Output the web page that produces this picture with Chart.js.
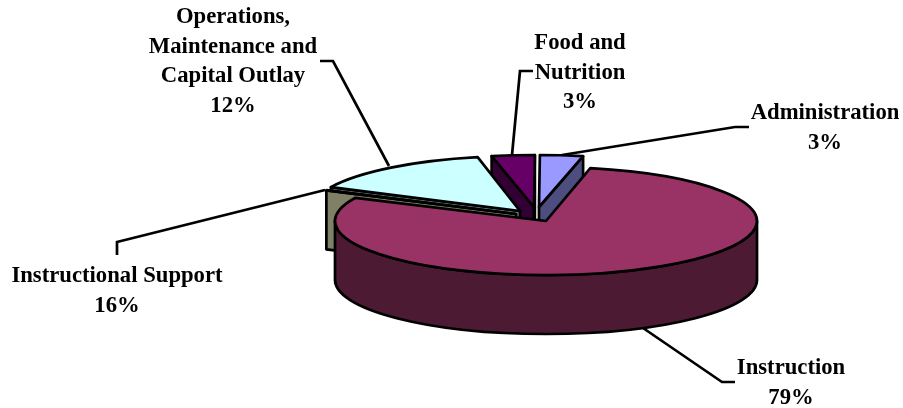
<!DOCTYPE html>
<html>
<head>
<meta charset="utf-8">
<title>Budget pie</title>
<script src="https://cdn.jsdelivr.net/npm/chart.js@4/dist/chart.umd.js"></script>
<style>
  html, body { margin: 0; padding: 0; background: #fff; }
  canvas { display: block; }
</style>
</head>
<body>
<canvas id="myChart" width="903" height="408"></canvas>
<script>
// ----------- Data ------------ //
let categories = ["Instructional Support", "Operations, Maintenance and Capital Outlay", "Food and Nutrition", "Administration", "Instruction"];
// share of the circle each slice really takes up in the picture
let sliceShares = [0.1, 14.6, 3.3, 3.3, 78.7];
// what the labels print (they do not add up to 100 in the original)
let printedPercents = [16, 12, 3, 3, 79];

// ----------- Looks ------------ //
let topColors = ["#ffffcc", "#ccffff", "#660066", "#9999ff", "#993366"];
let wallColors = ["#808066", "#668080", "#330033", "#4d4d80", "#4d1a33"];

// where each slice tip sits on the page, and the flattened radii
let sliceTips = [
  { x: 516, y: 214, rx: 210, ry: 55 },
  { x: 520, y: 211, rx: 210, ry: 55 },
  { x: 534, y: 207, rx: 210, ry: 52 },
  { x: 539, y: 207, rx: 210, ry: 52 },
  { x: 546, y: 221, rx: 211, ry: 54 }
];
let depth = 59;
let drawOrder = [3, 2, 1, 0, 4];

let labelSpots = [
  { x: 117, y: 282, lines: ["Instructional Support"] },
  { x: 233, y: 23, lines: ["Operations,", "Maintenance and", "Capital Outlay"] },
  { x: 580, y: 49, lines: ["Food and", "Nutrition"] },
  { x: 825, y: 119, lines: ["Administration"] },
  { x: 791, y: 374, lines: ["Instruction"] }
];
let leaders = [
  [[117, 255], [117, 242], [325, 190]],
  [[320, 61], [333, 61], [389, 166]],
  [[533, 71], [520, 71], [512, 155]],
  [[749, 127], [735, 127], [562, 155]],
  [[735, 382], [722, 382], [643, 328]]
];

// ---------- 3D drawing ------------- //
function drawWalls(ctx, arc, tip, color) {
  let a = arc.startAngle;
  let b = arc.endAngle;
  ctx.fillStyle = color;

  // cut edges that face the viewer
  let edges = [];
  if (Math.sin(a - Math.PI / 2) > 0) edges.push(a);
  if (Math.sin(b + Math.PI / 2) > 0) edges.push(b);
  for (let e of edges) {
    let ex = tip.x + tip.rx * Math.cos(e);
    let ey = tip.y + tip.ry * Math.sin(e);
    ctx.beginPath();
    ctx.moveTo(tip.x, tip.y);
    ctx.lineTo(ex, ey);
    ctx.lineTo(ex, ey + depth);
    ctx.lineTo(tip.x, tip.y + depth);
    ctx.closePath();
    ctx.fill();
    ctx.stroke();
  }

  // round outside wall, only the front half of the ellipse shows
  for (let n = 0; n < 3; n++) {
    let from = Math.max(a, n * 2 * Math.PI);
    let to = Math.min(b, n * 2 * Math.PI + Math.PI);
    if (from >= to) continue;
    ctx.beginPath();
    ctx.ellipse(tip.x, tip.y, tip.rx, tip.ry, 0, from, to);
    ctx.ellipse(tip.x, tip.y + depth, tip.rx, tip.ry, 0, to, from, true);
    ctx.closePath();
    ctx.fill();
    ctx.stroke();
  }
}

function drawTop(ctx, arc, tip) {
  // let the library fill the slice, squashed onto the ellipse
  ctx.save();
  ctx.translate(tip.x, tip.y);
  ctx.scale(tip.rx / arc.outerRadius, tip.ry / arc.outerRadius);
  ctx.translate(-arc.x, -arc.y);
  arc.draw(ctx);
  ctx.restore();

  // outline done separately so the line width stays even
  ctx.beginPath();
  ctx.moveTo(tip.x, tip.y);
  ctx.ellipse(tip.x, tip.y, tip.rx, tip.ry, 0, arc.startAngle, arc.endAngle);
  ctx.closePath();
  ctx.stroke();
}

let pie3d = {
  id: "pie3d",
  beforeDatasetDraw(chart, args) {
    let ctx = chart.ctx;
    let arcs = args.meta.data;
    ctx.save();
    ctx.strokeStyle = "#000";
    ctx.lineWidth = 2.7;
    ctx.lineJoin = "round";
    for (let i of drawOrder) {
      drawWalls(ctx, arcs[i], sliceTips[i], wallColors[i]);
      drawTop(ctx, arcs[i], sliceTips[i]);
    }
    ctx.restore();
    return false;
  },
  afterDraw(chart) {
    let ctx = chart.ctx;
    ctx.save();
    ctx.strokeStyle = "#000";
    ctx.lineWidth = 2.7;
    for (let line of leaders) {
      ctx.beginPath();
      ctx.moveTo(line[0][0], line[0][1]);
      ctx.lineTo(line[1][0], line[1][1]);
      ctx.lineTo(line[2][0], line[2][1]);
      ctx.stroke();
    }
    ctx.fillStyle = "#000";
    ctx.font = "bold 22.7px 'Liberation Serif'";
    ctx.textAlign = "center";
    ctx.textBaseline = "alphabetic";
    labelSpots.forEach((spot, i) => {
      let rows = spot.lines.concat(printedPercents[i] + "%");
      rows.forEach((row, r) => ctx.fillText(row, spot.x, spot.y + r * 29.5));
    });
    ctx.restore();
  }
};

new Chart("myChart", {
  type: "pie",
  data: {
    labels: categories,
    datasets: [{
      data: sliceShares,
      backgroundColor: topColors,
      borderWidth: 0,
      radius: 190
    }]
  },
  options: {
    responsive: false,
    animation: false,
    rotation: 295.44,
    layout: { padding: 0 },
    plugins: {
      legend: { display: false },
      tooltip: { enabled: false }
    }
  },
  plugins: [pie3d]
});
</script>
</body>
</html>
